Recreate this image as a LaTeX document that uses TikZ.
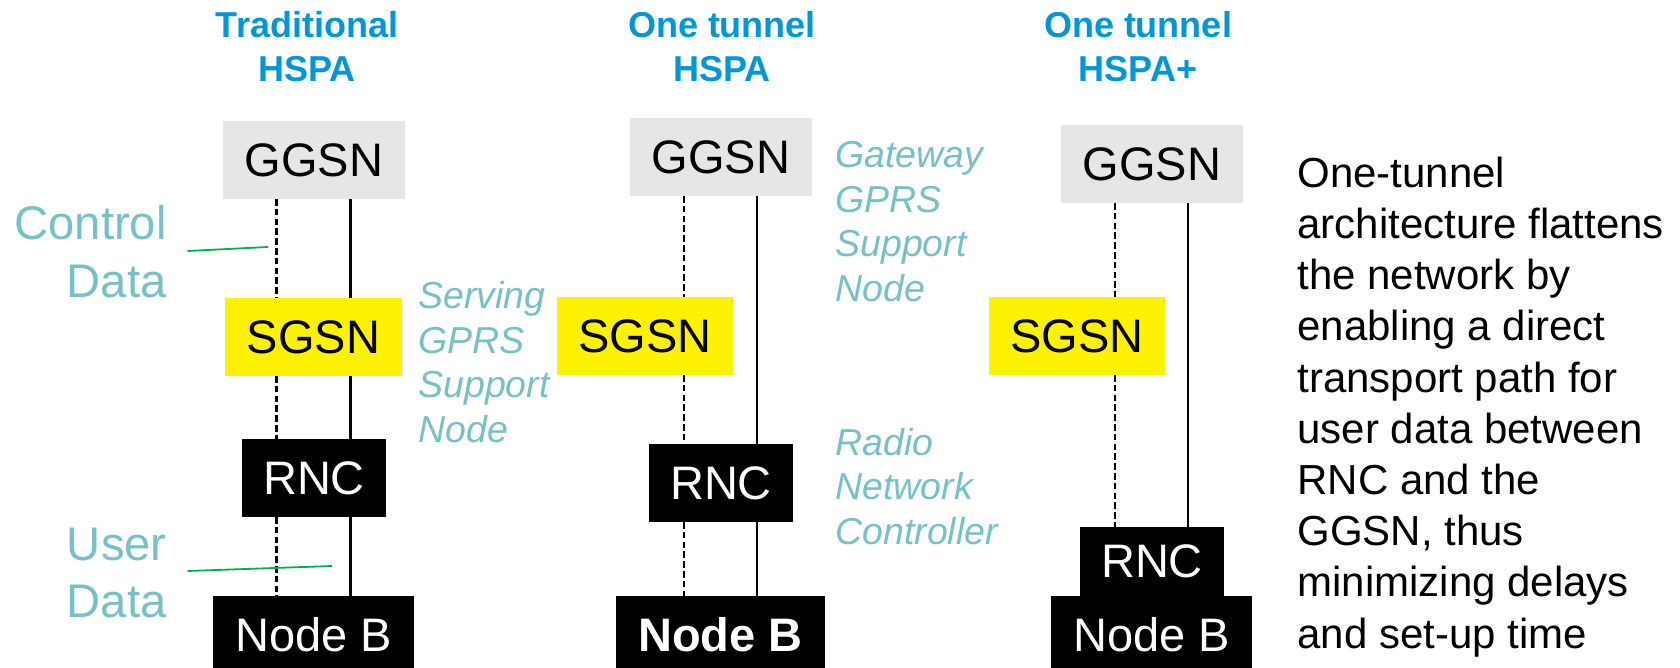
\documentclass[tikz,border=0pt]{standalone}
\usepackage{fontspec}
\setmainfont{Liberation Sans}
\definecolor{ttlblue}{RGB}{0,150,218}
\definecolor{annot}{RGB}{118,192,200}
\definecolor{grnline}{RGB}{0,176,80}
\definecolor{gbox}{RGB}{230,230,230}
\begin{document}
\begin{tikzpicture}[x=0.5pt,y=-0.5pt,
  box/.style={inner sep=0pt, outer sep=0pt, minimum height=39pt, font=\fontsize{23.5}{28}\selectfont},
  ggsnbox/.style={box, fill=gbox, text=black},
  sgsnbox/.style={box, fill=yellow, text=black},
  blkbox/.style={box, fill=black, text=white},
  ttl/.style={text=ttlblue, font=\bfseries\fontsize{18}{22}\selectfont, align=center, anchor=base, inner sep=0pt},
  note/.style={text=annot, font=\itshape\fontsize{18.75}{22.25}\selectfont, align=left, anchor=base west, inner sep=0pt},
  side/.style={text=annot, font=\fontsize{23.6}{28.5}\selectfont, align=right, anchor=base east, inner sep=0pt},
  para/.style={text=black, font=\fontsize{21}{25.6}\selectfont, align=left, anchor=base west, inner sep=0pt},
  ctrl/.style={line width=1.1pt, dash pattern=on 3.3pt off 1.6pt},
  usr/.style={line width=1.05pt},
  pointer/.style={grnline, line width=0.9pt}
]
\useasboundingbox (0,0) rectangle (1680,668);
\clip (0,0) rectangle (1680,668);
\fill[white] (0,0) rectangle (1680,668);

% titles (anchor = baseline of last line)
\node[ttl] (t1) at (307,82) {Traditional\\HSPA};
\node[ttl] (t2) at (722,82) {One tunnel\\HSPA};
\node[ttl] (t3) at (1138,82) {One tunnel\\HSPA+};

% x positions of the control (dashed) and user (solid) lines
\coordinate (d1) at (276.5,0); \coordinate (u1) at (350.5,0);
\coordinate (d2) at (684,0);   \coordinate (u2) at (757,0);
\coordinate (d3) at (1115,0);  \coordinate (u3) at (1188,0);

% column 1
\node[ggsnbox, minimum width=91pt]  (g1) at (314,160)   {GGSN};
\node[sgsnbox, minimum width=88.5pt] (s1) at (313.5,337) {SGSN};
\node[blkbox, minimum width=72pt]   (r1) at (314,478)   {RNC};
\node[blkbox, minimum width=100.5pt] (n1) at (313.5,635) {Node B};

% column 2
\node[ggsnbox, minimum width=91pt]  (g2) at (721,157)   {GGSN};
\node[sgsnbox, minimum width=88pt]  (s2) at (645,336)   {SGSN};
\node[blkbox, minimum width=72pt]   (r2) at (721,483)   {RNC};
\node[blkbox, minimum width=104.5pt] (n2) at (720.5,635) {\bfseries Node B};

% column 3
\node[ggsnbox, minimum width=91pt]  (g3) at (1152,164)  {GGSN};
\node[sgsnbox, minimum width=88pt]  (s3) at (1077,336)  {SGSN};
\node[blkbox, minimum width=72pt, minimum height=34.5pt] (r3) at (1152,561.5) {RNC};
\node[blkbox, minimum width=100.5pt] (n3) at (1151.5,635) {Node B};

% column 1 connectors
\draw[ctrl] (g1.south -| d1) -- (s1.north -| d1);
\draw[ctrl] (s1.south -| d1) -- (r1.north -| d1);
\draw[ctrl] (r1.south -| d1) -- (n1.north -| d1);
\draw[usr]  (g1.south -| u1) -- (s1.north -| u1);
\draw[usr]  (s1.south -| u1) -- (r1.north -| u1);
\draw[usr]  (r1.south -| u1) -- (n1.north -| u1);

% column 2 connectors
\draw[ctrl] (g2.south -| d2) -- (s2.north -| d2);
\draw[ctrl] (s2.south -| d2) -- (r2.north -| d2);
\draw[ctrl] (r2.south -| d2) -- (n2.north -| d2);
\draw[usr]  (g2.south -| u2) -- (r2.north -| u2);
\draw[usr]  (r2.south -| u2) -- (n2.north -| u2);

% column 3 connectors
\draw[ctrl] (g3.south -| d3) -- (s3.north -| d3);
\draw[ctrl] (s3.south -| d3) -- (r3.north -| d3);
\draw[usr]  (g3.south -| u3) -- (r3.north -| u3);

% side labels and pointers
\node[side] (cd) at (167,297) {Control\\Data};
\node[side] (ud) at (167,617) {User\\Data};
\coordinate (cp1) at (187.5,251); \coordinate (cp2) at (268,247);
\coordinate (up1) at (187.5,571); \coordinate (up2) at (332,566);
\draw[pointer] (cp1) -- (cp2);
\draw[pointer] (up1) -- (up2);

% italic notes
\node[note] (sn) at (418,442) {Serving\\GPRS\\Support\\Node};
\node[note] (gn) at (835,301) {Gateway\\GPRS\\Support\\Node};
\node[note] (rn) at (835,544) {Radio\\Network\\Controller};

% paragraph
\node[para] (pt) at (1297,648) {One-tunnel\\architecture flattens\\the network by\\enabling a direct\\transport path for\\user data between\\RNC and the\\GGSN, thus\\minimizing delays\\and set-up time};
\end{tikzpicture}
\end{document}
